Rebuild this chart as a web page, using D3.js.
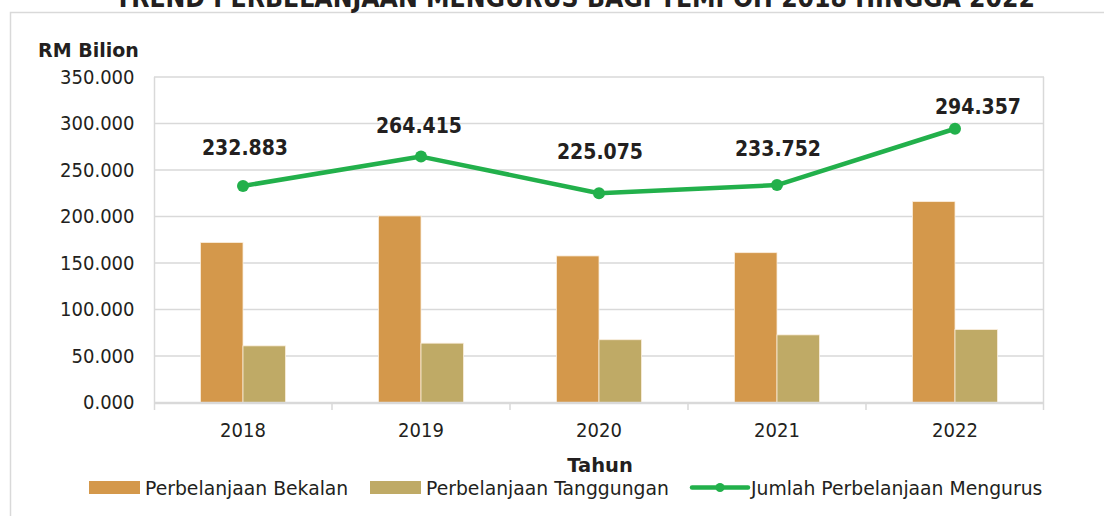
<!DOCTYPE html>
<html>
<head>
<meta charset="utf-8">
<script src="https://cdn.jsdelivr.net/npm/d3@7"></script>
<style>
  body { margin: 0; background: #fff; }
  svg text { font-family: "DejaVu Sans Condensed", "DejaVu Sans", sans-serif; fill: #231f20; }
  svg text.wide { font-family: "DejaVu Sans", sans-serif; }
</style>
</head>
<body>
<div id="chart"></div>
<script>
// data
var years = ["2018", "2019", "2020", "2021", "2022"];
var bekalan = [172.0, 200.6, 157.6, 161.1, 216.0];
var tanggungan = [60.9, 63.8, 67.5, 72.7, 78.4];
var jumlah = [232.883, 264.415, 225.075, 233.752, 294.357];
var yTicks = [0, 50, 100, 150, 200, 250, 300, 350];
var seriesNames = ["Perbelanjaan Bekalan", "Perbelanjaan Tanggungan", "Jumlah Perbelanjaan Mengurus"];
var colors = ["#d4984b", "#bfaa66", "#22b04b"];

// label nudges for the total labels (dx, dy from the point)
var labelNudge = [[2, -31], [-2, -24], [1, -34], [1, -29], [23, -15]];

var svgWidth = 1104;
var svgHeight = 516;

var svg = d3.select("#chart")
  .append("svg")
  .attr("width", svgWidth)
  .attr("height", svgHeight);

// chart frame
svg.append("rect")
  .attr("x", 10.5)
  .attr("y", 12.5)
  .attr("width", 1110)
  .attr("height", 520)
  .attr("fill", "none")
  .attr("stroke", "#d9d9d9")
  .attr("stroke-width", 1.5);

// title, mostly cut off by the top of the picture
svg.append("text")
  .attr("x", 575)
  .attr("y", 7)
  .attr("text-anchor", "middle")
  .attr("font-weight", "bold")
  .attr("font-size", 26)
  .attr("textLength", 920)
  .attr("lengthAdjust", "spacingAndGlyphs")
  .text("TREND PERBELANJAAN MENGURUS BAGI TEMPOH 2018 HINGGA 2022");

// scales
var xScale = d3.scaleBand()
  .domain(years)
  .range([154, 1044]);

var xInner = d3.scaleBand()
  .domain([0, 1])
  .range([46.5, 131.5]);

var yScale = d3.scaleLinear()
  .domain([0, 350])
  .range([402.5, 77]);

// gridlines
svg.append("g")
  .selectAll("line")
  .data(yTicks.slice(1))
  .enter()
  .append("line")
  .attr("x1", 154)
  .attr("x2", 1044)
  .attr("y1", d => yScale(d))
  .attr("y2", d => yScale(d))
  .attr("stroke", "#d9d9d9")
  .attr("stroke-width", 1.5);

// right border of plot area
svg.append("line")
  .attr("x1", 1043.5).attr("x2", 1043.5)
  .attr("y1", 77).attr("y2", 410)
  .attr("stroke", "#d9d9d9")
  .attr("stroke-width", 1.5);

// y axis
var leftAxis = d3.axisLeft(yScale)
  .tickValues(yTicks)
  .tickSize(0)
  .tickPadding(20)
  .tickFormat(d3.format(".3f"));

var yAxisG = svg.append("g")
  .attr("transform", "translate(154.5,0)")
  .call(leftAxis);
yAxisG.select(".domain").remove();
yAxisG.selectAll("text")
  .attr("font-size", 20)
  .attr("font-family", null)
  .attr("fill", "#231f20");

svg.append("line")
  .attr("x1", 154.5).attr("x2", 154.5)
  .attr("y1", 77).attr("y2", 410)
  .attr("stroke", "#d9d9d9")
  .attr("stroke-width", 1.5);

// bars
var barData = [];
years.forEach(function(yr, i) {
  barData.push({ year: yr, s: 0, value: bekalan[i] });
  barData.push({ year: yr, s: 1, value: tanggungan[i] });
});

svg.append("g")
  .selectAll("rect")
  .data(barData)
  .enter()
  .append("rect")
  .attr("x", d => xScale(d.year) + xInner(d.s))
  .attr("y", d => yScale(d.value))
  .attr("width", xInner.bandwidth())
  .attr("height", d => yScale(0) - yScale(d.value))
  .attr("fill", d => colors[d.s])
  .attr("stroke", "#fbeedd")
  .attr("stroke-width", 0.8);

// x axis
var bottomAxis = d3.axisBottom(xScale)
  .tickSize(0)
  .tickPadding(20);

var xAxisG = svg.append("g")
  .attr("transform", "translate(0,402.5)")
  .call(bottomAxis);
xAxisG.select(".domain").remove();
xAxisG.selectAll("text")
  .attr("font-size", 20)
  .attr("font-family", null)
  .attr("fill", "#231f20");

svg.append("line")
  .attr("x1", 154).attr("x2", 1044)
  .attr("y1", 403).attr("y2", 403)
  .attr("stroke", "#d9d9d9")
  .attr("stroke-width", 2.5);

// category boundary ticks
svg.append("g")
  .selectAll("line")
  .data(years.slice(1))
  .enter()
  .append("line")
  .attr("x1", d => xScale(d))
  .attr("x2", d => xScale(d))
  .attr("y1", 403)
  .attr("y2", 410)
  .attr("stroke", "#d9d9d9")
  .attr("stroke-width", 1.5);

// total line
var cx = d => xScale(d.year) + xScale.bandwidth() / 2;
var lineData = years.map((yr, i) => ({ year: yr, value: jumlah[i], i: i }));

var line = d3.line()
  .x(cx)
  .y(d => yScale(d.value));

svg.append("path")
  .datum(lineData)
  .attr("d", line)
  .attr("fill", "none")
  .attr("stroke", colors[2])
  .attr("stroke-width", 4.5)
  .attr("stroke-linejoin", "round");

svg.append("g")
  .selectAll("circle")
  .data(lineData)
  .enter()
  .append("circle")
  .attr("cx", cx)
  .attr("cy", d => yScale(d.value))
  .attr("r", 6)
  .attr("fill", colors[2]);

svg.append("g")
  .selectAll("text")
  .data(lineData)
  .enter()
  .append("text")
  .attr("x", d => cx(d) + labelNudge[d.i][0])
  .attr("y", d => yScale(d.value) + labelNudge[d.i][1])
  .attr("text-anchor", "middle")
  .attr("font-weight", "bold")
  .attr("font-size", 21)
  .text(d => d3.format(".3f")(d.value));

// axis titles
svg.append("text")
  .attr("class", "wide")
  .attr("x", 38)
  .attr("y", 57)
  .attr("font-weight", "bold")
  .attr("font-size", 19)
  .text("RM Bilion");

svg.append("text")
  .attr("class", "wide")
  .attr("x", 600)
  .attr("y", 472)
  .attr("text-anchor", "middle")
  .attr("font-weight", "bold")
  .attr("font-size", 19.5)
  .text("Tahun");

// legend
var legendX = [89, 370, 692];
var legend = svg.append("g");

[0, 1].forEach(function(s) {
  legend.append("rect")
    .attr("x", legendX[s])
    .attr("y", 481)
    .attr("width", 51)
    .attr("height", 13)
    .attr("fill", colors[s]);
  legend.append("text")
    .attr("class", "wide")
    .attr("x", legendX[s] + 56)
    .attr("y", 488)
    .attr("dy", "0.35em")
    .attr("font-size", 18.8)
    .text(seriesNames[s]);
});

legend.append("line")
  .attr("x1", legendX[2])
  .attr("x2", legendX[2] + 56)
  .attr("y1", 487.5)
  .attr("y2", 487.5)
  .attr("stroke", colors[2])
  .attr("stroke-width", 4.5)
  .attr("stroke-linecap", "round");
legend.append("circle")
  .attr("cx", legendX[2] + 28)
  .attr("cy", 487.5)
  .attr("r", 4.5)
  .attr("fill", colors[2]);
legend.append("text")
  .attr("class", "wide")
  .attr("x", legendX[2] + 59)
  .attr("y", 488)
  .attr("dy", "0.35em")
  .attr("font-size", 18.8)
  .text(seriesNames[2]);
</script>
</body>
</html>
